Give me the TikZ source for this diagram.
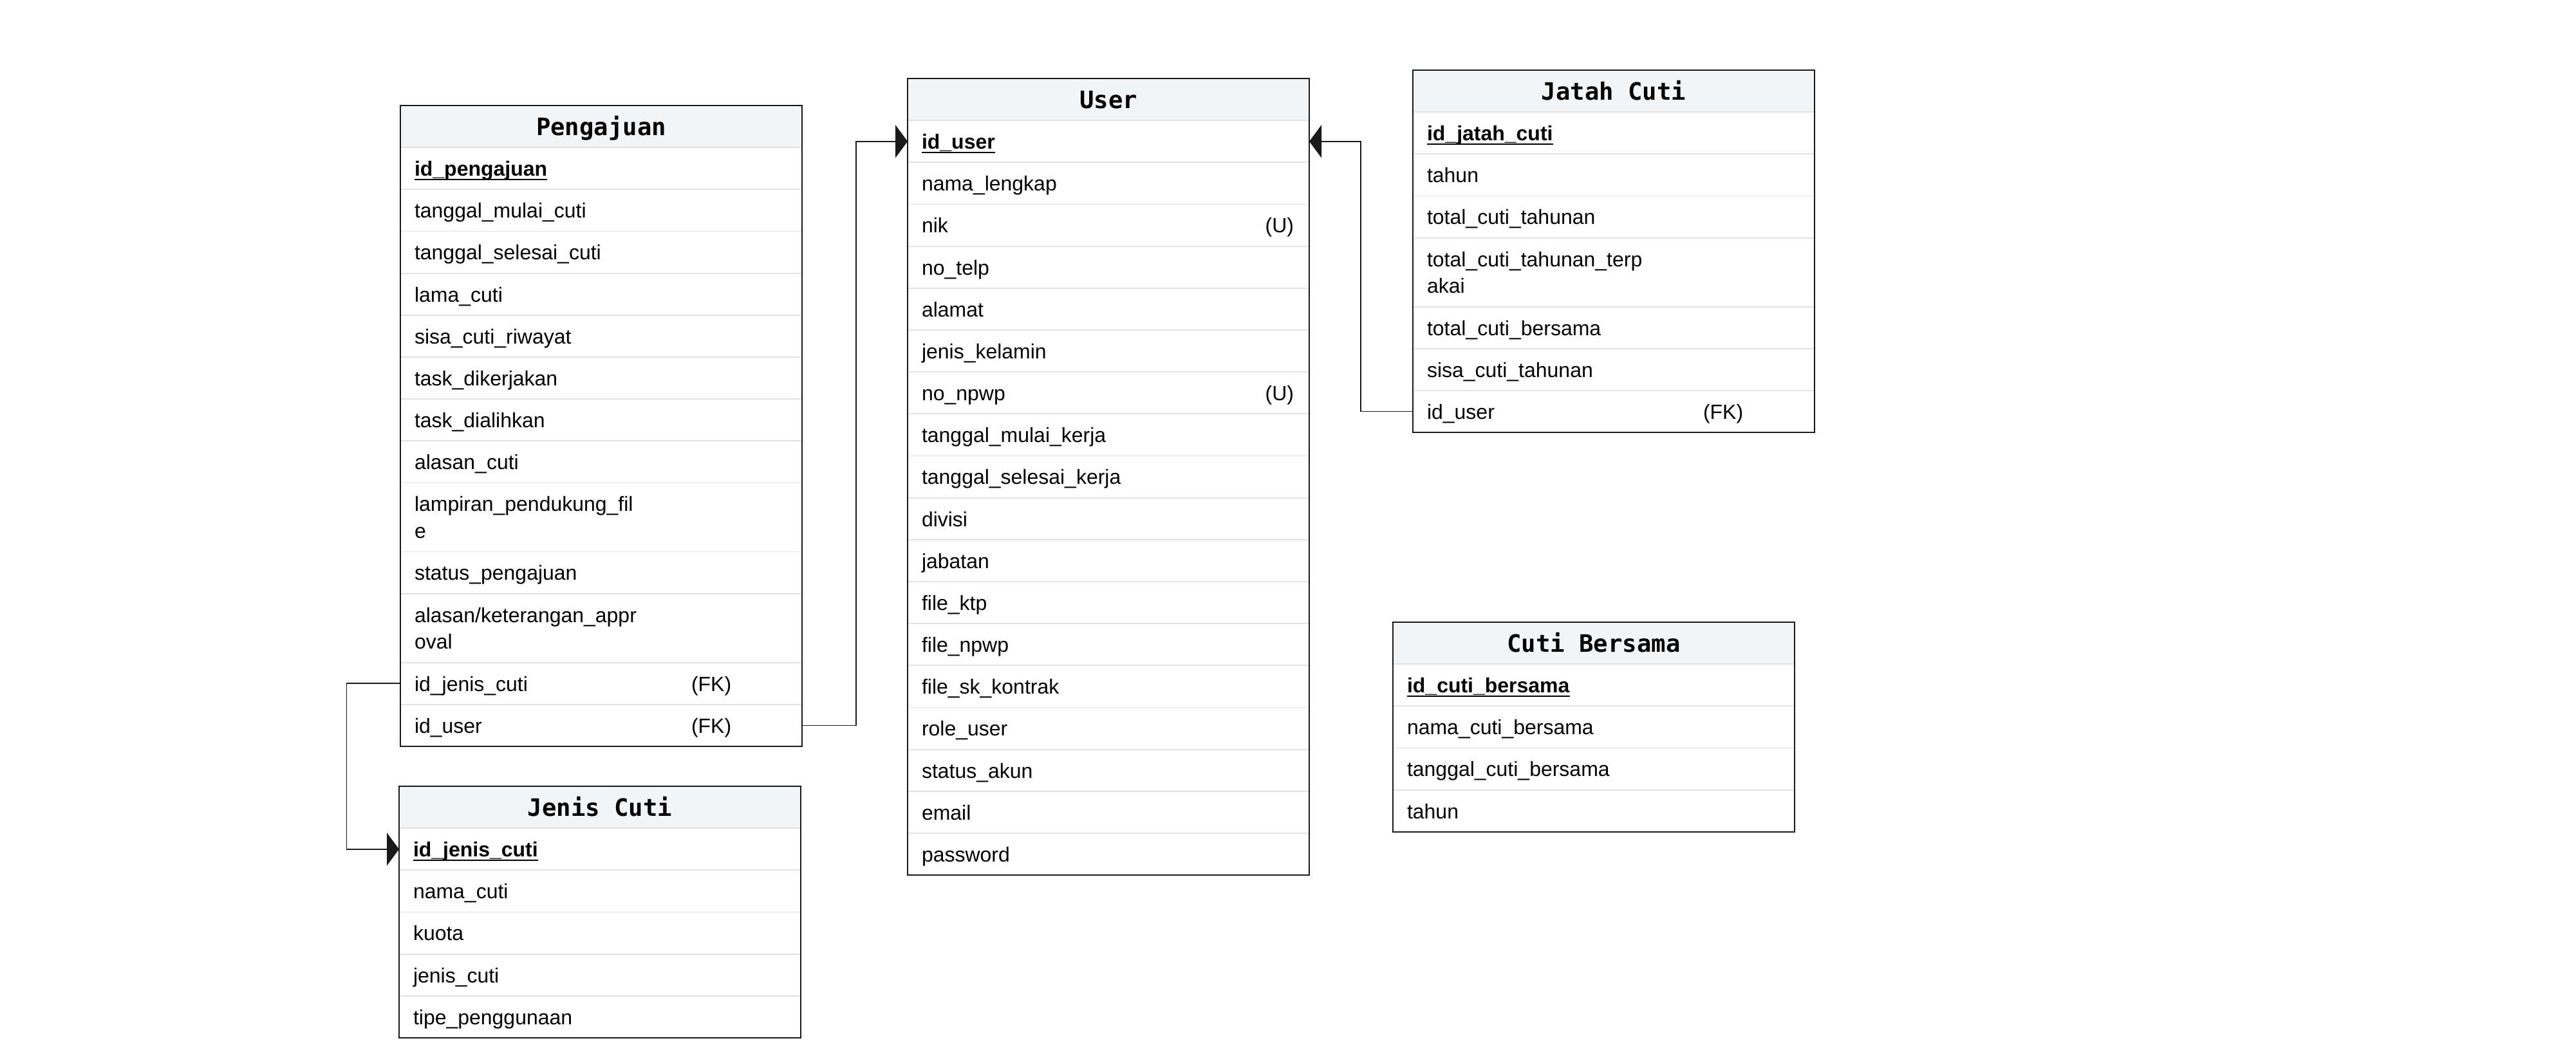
\documentclass[tikz,border=0pt]{standalone}
\usepackage{fontspec}
\setmainfont{Liberation Sans}
\newfontfamily\titlefont{DejaVu Sans Mono}[WordSpace={1,0,0}]
\usetikzlibrary{positioning,arrows.meta}

\definecolor{headgray}{HTML}{F3F4F6}
\definecolor{sepgray}{HTML}{E3E3E3}
\definecolor{linecol}{HTML}{1A1A1A}

\newsavebox\pkbox
\newcommand{\pk}[1]{\sbox\pkbox{\textbf{#1}}\rlap{\rule[-1.8pt]{\wd\pkbox}{0.6pt}}\usebox\pkbox}
\newcommand{\rowstrut}{\rule[-2.6pt]{0pt}{11.9pt}}

\begin{document}
\begin{tikzpicture}[
  head/.style={fill=headgray, text width=5.80cm, inner xsep=0.22cm, inner ysep=0pt, outer sep=0pt,
    minimum height=0.652cm, align=center, anchor=north west,
    font=\titlefont\bfseries\fontsize{10.6}{12}\selectfont, text height=10pt, text depth=2.3pt},
  row/.style={text width=5.80cm, inner xsep=0.22cm, inner ysep=0.1167cm, outer sep=0pt, align=left,
    font=\fontsize{9.1}{11.9}\selectfont, execute at begin node=\rowstrut, execute at end node=\rowstrut},
  key/.style={inner sep=0pt, outer sep=0pt, font=\fontsize{9.1}{11.9}\selectfont, execute at begin node=\rowstrut},
  sep/.style={sepgray, line width=0.5pt},
  border/.style={linecol, line width=0.5pt},
  fk/.style={linecol, line width=0.45pt, -{Triangle[length=0.19cm, width=0.51cm]}}
]
\useasboundingbox (0,0) rectangle (40.02,-16.35);

% Pengajuan
\node[head] (peng-0) at (6.22,-1.64) {Pengajuan};
\foreach \f [count=\i, evaluate=\i as \j using int(\i-1)] in {\pk{id\_pengajuan}, tanggal\_mulai\_cuti,
  tanggal\_selesai\_cuti, lama\_cuti, sisa\_cuti\_riwayat, task\_dikerjakan, task\_dialihkan, alasan\_cuti,
  lampiran\_pendukung\_fil\\e, status\_pengajuan, alasan/keterangan\_appr\\oval, id\_jenis\_cuti, id\_user}
{
  \node[row, below=0pt of peng-\j] (peng-\i) {\f};
  \draw[sep] (peng-\i.north west) -- (peng-\i.north east);
}
\draw[border] (peng-0.north west) rectangle (peng-13.south east);
\node[key, right=4.52cm of peng-12.west] (peng-12k) {(FK)};
\node[key, right=4.52cm of peng-13.west] (peng-13k) {(FK)};

% User
\node[head] (user-0) at (14.10,-1.22) {User};
\foreach \f [count=\i, evaluate=\i as \j using int(\i-1)] in {\pk{id\_user}, nama\_lengkap, nik, no\_telp,
  alamat, jenis\_kelamin, no\_npwp, tanggal\_mulai\_kerja, tanggal\_selesai\_kerja, divisi, jabatan,
  file\_ktp, file\_npwp, file\_sk\_kontrak, role\_user, status\_akun, email, password}
{
  \node[row, below=0pt of user-\j] (user-\i) {\f};
  \draw[sep] (user-\i.north west) -- (user-\i.north east);
}
\draw[border] (user-0.north west) rectangle (user-18.south east);
\node[key, left=0.24cm of user-3.east] (user-3k) {(U)};
\node[key, left=0.24cm of user-7.east] (user-7k) {(U)};

% Jatah Cuti
\node[head] (jatah-0) at (21.95,-1.09) {Jatah\hspace{0.602em}Cuti};
\foreach \f [count=\i, evaluate=\i as \j using int(\i-1)] in {\pk{id\_jatah\_cuti}, tahun,
  total\_cuti\_tahunan, total\_cuti\_tahunan\_terp\\akai, total\_cuti\_bersama, sisa\_cuti\_tahunan, id\_user}
{
  \node[row, below=0pt of jatah-\j] (jatah-\i) {\f};
  \draw[sep] (jatah-\i.north west) -- (jatah-\i.north east);
}
\draw[border] (jatah-0.north west) rectangle (jatah-7.south east);
\node[key, right=4.51cm of jatah-7.west] (jatah-7k) {(FK)};

% Cuti Bersama
\node[head] (bers-0) at (21.64,-9.67) {Cuti\hspace{0.602em}Bersama};
\foreach \f [count=\i, evaluate=\i as \j using int(\i-1)] in {\pk{id\_cuti\_bersama}, nama\_cuti\_bersama,
  tanggal\_cuti\_bersama, tahun}
{
  \node[row, below=0pt of bers-\j] (bers-\i) {\f};
  \draw[sep] (bers-\i.north west) -- (bers-\i.north east);
}
\draw[border] (bers-0.north west) rectangle (bers-4.south east);

% Jenis Cuti
\node[head] (jenis-0) at (6.20,-12.22) {Jenis\hspace{0.602em}Cuti};
\foreach \f [count=\i, evaluate=\i as \j using int(\i-1)] in {\pk{id\_jenis\_cuti}, nama\_cuti, kuota,
  jenis\_cuti, tipe\_penggunaan}
{
  \node[row, below=0pt of jenis-\j] (jenis-\i) {\f};
  \draw[sep] (jenis-\i.north west) -- (jenis-\i.north east);
}
\draw[border] (jenis-0.north west) rectangle (jenis-5.south east);

% relasi
\draw[fk] (peng-13.east) -- ++(0.84,0) |- (user-1.west);
\draw[fk] (peng-12.west) -- ++(-0.835,0) |- (jenis-1.west);
\draw[fk] (jatah-7.west) -- ++(-0.81,0) |- (user-1.east);
\end{tikzpicture}
\end{document}
